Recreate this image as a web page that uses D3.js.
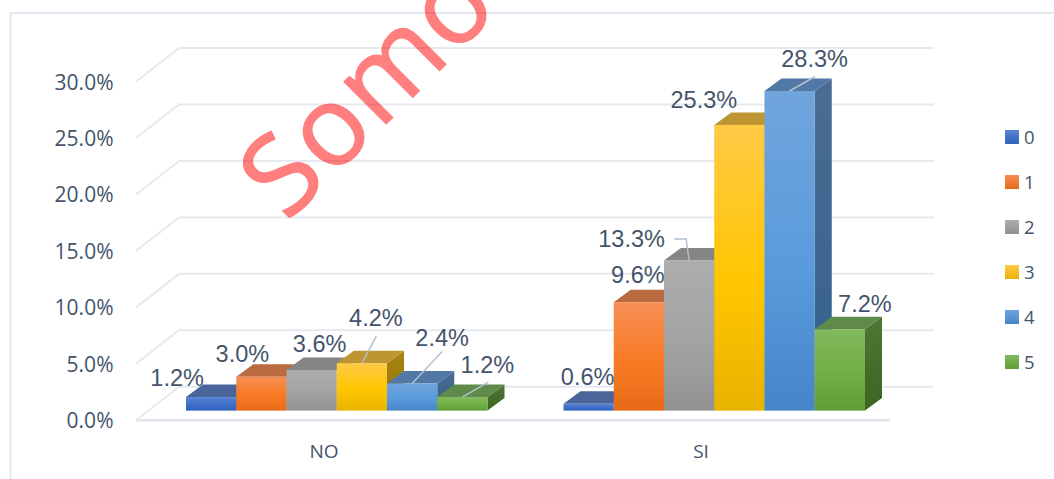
<!DOCTYPE html>
<html><head><meta charset="utf-8">
<script src="https://cdn.jsdelivr.net/npm/d3@7"></script>
<style>html,body{margin:0;padding:0;background:#fff;overflow:hidden}svg{display:block}</style>
</head><body><div id="chart"></div>
<script>
const categories = ["NO", "SI"];
const seriesNames = ["0", "1", "2", "3", "4", "5"];
const valuesNO = [1.2, 3.0, 3.6, 4.2, 2.4, 1.2];
const valuesSI = [0.6, 9.6, 13.3, 25.3, 28.3, 7.2];
const yTicks = [0, 5, 10, 15, 20, 25, 30];
// front face gradient stops (top, middle, bottom), top face, side face (top, bottom)
const frontTop = ["#5b84d2", "#f68f55", "#adadad", "#ffca47", "#70a5dc", "#82b95f"];
const frontMid = ["#3f6fca", "#f97b25", "#a3a3a3", "#ffc600", "#5a9bdc", "#72b045"];
const frontBot = ["#2f62bb", "#e66a17", "#929292", "#e8b300", "#4585c8", "#5f9d35"];
const topFace = ["#4a6599", "#b96a3e", "#858585", "#bd9632", "#5279a6", "#5f8a4a"];
const sideTop = ["#34558f", "#a85a2a", "#767676", "#a88511", "#4a6c92", "#4f7636"];
const sideBot = ["#2c4c85", "#964e20", "#6a6a6a", "#957508", "#33618f", "#3c6520"];
// data label placement relative to the bar's top-centre, in px [dx, dy]
const labelOffNO = [[-34, -11], [-19, -15], [8, -18], [14, -37], [30, -37.5], [25, -24]];
const labelOffSI = [[-1, -19], [-1, -19], [-57.5, -13], [-35.5, -17], [25, -24], [25, -17]];
// leader lines: series index -> from label side, as [dx, dy] relative to the bar's top-centre
const leadersNO = { 3: [[14.5, -27]], 4: [[30, -32]], 5: [[26, -15]] };
const leadersSI = { 2: [[-15, -21.5], [-3, -21.5]], 4: [[25.5, -14.5]] };

const W = 1054, H = 479;
const depthX = 43, depthY = 33.5;       // wall depth
const barDX = 17, barDY = 12.5;         // bar depth
const barShift = 9.7;                   // bar base sits above the front floor edge
const y = d3.scaleLinear().domain([0, 30]).range([420.3, 81.5]);

const svg = d3.select("#chart").append("svg").attr("width", W).attr("height", H)
  .style("font-family", "'Liberation Sans', Arial, sans-serif");
const defs = svg.append("defs");
seriesNames.forEach((s, i) => {
  const g = defs.append("linearGradient").attr("id", "front" + i).attr("x1", 0).attr("x2", 0).attr("y1", 0).attr("y2", 1);
  g.append("stop").attr("offset", "0%").attr("stop-color", frontTop[i]);
  g.append("stop").attr("offset", "55%").attr("stop-color", frontMid[i]);
  g.append("stop").attr("offset", "100%").attr("stop-color", frontBot[i]);
  const l = defs.append("linearGradient").attr("id", "legend" + i).attr("x1", 0).attr("x2", 0).attr("y1", 0).attr("y2", 1);
  l.append("stop").attr("offset", "0%").attr("stop-color", frontTop[i]);
  l.append("stop").attr("offset", "100%").attr("stop-color", frontBot[i]);
  const sd = defs.append("linearGradient").attr("id", "side" + i).attr("x1", 0).attr("x2", 0).attr("y1", 0).attr("y2", 1);
  sd.append("stop").attr("offset", "0%").attr("stop-color", sideTop[i]);
  sd.append("stop").attr("offset", "100%").attr("stop-color", sideBot[i]);
});

// frame
svg.append("path").attr("d", `M10.5,${H}V13H${W}`).attr("fill", "none").attr("stroke", "#e3e7ef").attr("stroke-width", 2);

// walls
const grid = svg.append("g").attr("fill", "none").attr("stroke", "#e6e9f0").attr("stroke-width", 2);
yTicks.forEach(t => {
  const v = y(t);
  grid.append("path").attr("d", `M136,${v}L${136 + depthX},${v - depthY}H934`);
});
grid.append("path").attr("d", `M136,${y(0)}H890`).attr("stroke", "#e0e4ec").attr("stroke-width", 2.5);

// y axis labels
svg.append("g").selectAll("text").data(yTicks).join("text")
  .attr("x", 113.5).attr("y", d => y(d)).attr("dy", 8).attr("text-anchor", "end")
  .attr("fill", "#44546a").style("font-family", "'Open Sans'").style("font-size", "21px")
  .text(d => d3.format(".1f")(d) + "%");

// category labels
svg.append("g").selectAll("text").data(categories).join("text")
  .attr("x", d => d === "NO" ? 324 : 701).attr("y", 458).attr("text-anchor", "middle")
  .attr("fill", "#44546a").style("font-family", "'Open Sans'").style("font-size", "19px")
  .text(d => d);

// bars
const groups = [
  { cat: "NO", vals: valuesNO, off: labelOffNO, lead: leadersNO, start: 186 },
  { cat: "SI", vals: valuesSI, off: labelOffSI, lead: leadersSI, start: 563.5 }
];
const barW = 50.25;
const base = y(0) - barShift;
const h = v => y(0) - y(v);
groups.forEach(G => {
  const gx = d3.scaleBand().domain(seriesNames).range([G.start, G.start + barW * 6]);
  const gBars = svg.append("g");
  G.vals.forEach((v, i) => {
    const x0 = gx(seriesNames[i]), w = gx.bandwidth(), t = base - h(v);
    gBars.append("path").attr("d", `M${x0 + w},${t}l${barDX},${-barDY}V${base - barDY}L${x0 + w},${base}Z`).attr("fill", `url(#side${i})`);
    gBars.append("path").attr("d", `M${x0},${t}l${barDX},${-barDY}h${w}l${-barDX},${barDY}Z`).attr("fill", topFace[i]);
    gBars.append("rect").attr("x", x0).attr("y", t).attr("width", w).attr("height", base - t).attr("fill", `url(#front${i})`);
  });
  // leader lines
  Object.keys(G.lead).forEach(k => {
    const i = +k, x0 = gx(seriesNames[i]) + gx.bandwidth() / 2, t = base - h(G.vals[i]);
    const pts = G.lead[k].map(p => [x0 + p[0], t + p[1]]).concat([[x0, t]]);
    svg.append("path").attr("d", d3.line()(pts)).attr("fill", "none").attr("stroke", "#b4bfd0").attr("stroke-width", 1.5);
  });
  // data labels
  svg.append("g").selectAll("text").data(G.vals).join("text")
    .attr("x", (v, i) => gx(seriesNames[i]) + gx.bandwidth() / 2 + G.off[i][0])
    .attr("y", (v, i) => base - h(v) + G.off[i][1])
    .attr("text-anchor", "middle").attr("fill", "#44546a").style("font-size", "23.5px")
    .text(v => d3.format(".1f")(v) + "%");
});

// legend
const legendY = d3.scalePoint().domain(seriesNames).range([137, 362]);
const lg = svg.append("g").selectAll("g").data(seriesNames).join("g");
lg.append("rect").attr("x", 1005).attr("y", d => legendY(d) - 7).attr("width", 14).attr("height", 14)
  .attr("fill", (d, i) => `url(#legend${i})`);
lg.append("text").attr("x", 1024).attr("y", d => legendY(d)).attr("dy", 6.5).attr("fill", "#44546a")
  .style("font-family", "'Open Sans'").style("font-size", "18.5px").text(d => d);

// watermark
svg.append("text").attr("transform", "translate(287,223) rotate(-45)")
  .attr("fill", "#ff0000").attr("opacity", 0.5)
  .attr("stroke", "#ff0000").attr("stroke-width", 1.5).attr("letter-spacing", 1.5)
  .style("font-family", "'Open Sans'").style("font-size", "111px").text("Somo");
</script></body></html>
